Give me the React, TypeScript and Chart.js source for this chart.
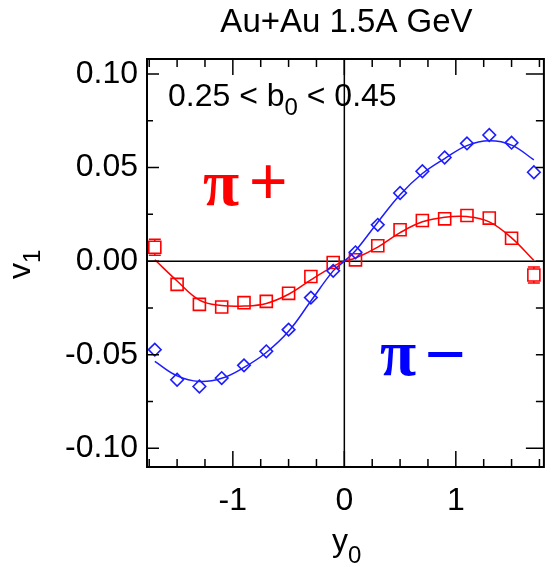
import React, { useEffect, useRef } from 'react';
import { Chart, registerables } from 'chart.js';
Chart.register(...registerables);

// ---- data ----
const rapidity = [-1.7, -1.5, -1.3, -1.1, -0.9, -0.7, -0.5, -0.3, -0.1, 0.1, 0.3, 0.5, 0.7, 0.9, 1.1, 1.3, 1.5, 1.7];
const piPlusV1 = [0.0074, -0.0124, -0.0231, -0.0245, -0.0222, -0.0215, -0.0172, -0.0082, -0.0007, 0.0007, 0.0082, 0.0168, 0.0217, 0.0226, 0.0244, 0.023, 0.0122, -0.0074];
const piPlusErr = [0.0043, 0, 0, 0, 0, 0, 0, 0, 0, 0, 0, 0, 0, 0, 0, 0, 0, 0.0043];
const piMinusV1 = [-0.0473, -0.0634, -0.067, -0.0625, -0.0557, -0.0482, -0.0366, -0.0195, -0.0052, 0.0047, 0.0194, 0.0364, 0.048, 0.0554, 0.0629, 0.0674, 0.0633, 0.0475];

const fitRapidity = [-1.7, -1.5, -1.3, -1.1, -0.9, -0.7, -0.5, -0.3, -0.1, 0, 0.1, 0.3, 0.5, 0.7, 0.9, 1.1, 1.3, 1.5, 1.7];
const piPlusFit = [0.0007, -0.0106, -0.0208, -0.0237, -0.024, -0.0226, -0.0177, -0.01, -0.0028, 0, 0.0016, 0.0075, 0.0152, 0.021, 0.0235, 0.0238, 0.021, 0.0124, 0.0003];
const piMinusFit = [-0.0536, -0.0613, -0.0643, -0.0626, -0.0568, -0.0488, -0.0375, -0.0213, -0.0052, 0, 0.0055, 0.0208, 0.0355, 0.0468, 0.0548, 0.0617, 0.0643, 0.062, 0.0541];

const xTicks = [-1, 0, 1];
const xMinorTicks = [-1.75, -1.5, -1.25, -0.75, -0.5, -0.25, 0.25, 0.5, 0.75, 1.25, 1.5, 1.75];
const yTicks = [-0.1, -0.05, 0, 0.05, 0.1];
const yMinorTicks = [-0.075, -0.025, 0.025, 0.075];

const X_MIN = -1.77;
const X_MAX = 1.79;
const Y_MIN = -0.11;
const Y_MAX = 0.108;

const RED = '#ff0000';
const BLUE = '#1c1cff';
const SANS = "'Liberation Sans', Arial, Helvetica, sans-serif";
const SERIF = "'Liberation Serif', 'DejaVu Serif', serif";
const SQUARE_R = 8.5;

const decorPlugin = {
  id: 'decor',
  beforeDatasetsDraw(chart: any) {
    const { ctx, chartArea: a, scales } = chart;
    const x0 = scales.x.getPixelForValue(0);
    const y0 = scales.y.getPixelForValue(0);
    ctx.save();
    ctx.strokeStyle = '#000';
    ctx.lineWidth = 1.5;
    ctx.beginPath();
    ctx.moveTo(a.left, y0);
    ctx.lineTo(a.right, y0);
    ctx.moveTo(x0, a.top);
    ctx.lineTo(x0, a.bottom);
    ctx.stroke();
    ctx.restore();
  },
  afterDatasetsDraw(chart: any) {
    const { ctx, chartArea: a, scales } = chart;
    const xs = scales.x;
    const ys = scales.y;
    ctx.save();
    // error bars on pi+ points
    ctx.strokeStyle = RED;
    ctx.lineWidth = 1.5;
    const half = SQUARE_R * Math.SQRT1_2;
    rapidity.forEach((r, i) => {
      const e = piPlusErr[i];
      if (!e) return;
      const px = xs.getPixelForValue(r);
      const py = ys.getPixelForValue(piPlusV1[i]);
      const pt = ys.getPixelForValue(piPlusV1[i] + e);
      const pb = ys.getPixelForValue(piPlusV1[i] - e);
      ctx.beginPath();
      if (pt < py - half) {
        ctx.moveTo(px, pt);
        ctx.lineTo(px, py - half);
        ctx.moveTo(px - half, pt);
        ctx.lineTo(px + half, pt);
      }
      if (pb > py + half) {
        ctx.moveTo(px, py + half);
        ctx.lineTo(px, pb);
        ctx.moveTo(px - half, pb);
        ctx.lineTo(px + half, pb);
      }
      ctx.stroke();
    });
    // frame
    ctx.strokeStyle = '#000';
    ctx.lineWidth = 2;
    ctx.strokeRect(a.left, a.top, a.right - a.left, a.bottom - a.top);
    // ticks
    ctx.lineWidth = 1.5;
    ctx.beginPath();
    const xt = (v: number, len: number) => {
      const p = xs.getPixelForValue(v);
      ctx.moveTo(p, a.bottom);
      ctx.lineTo(p, a.bottom - len);
      ctx.moveTo(p, a.top);
      ctx.lineTo(p, a.top + len);
    };
    xTicks.forEach((v) => xt(v, 16));
    xMinorTicks.forEach((v) => xt(v, 8));
    const yt = (v: number, lenL: number, lenR: number) => {
      const p = ys.getPixelForValue(v);
      ctx.moveTo(a.left, p);
      ctx.lineTo(a.left + lenL, p);
      ctx.moveTo(a.right, p);
      ctx.lineTo(a.right - lenR, p);
    };
    yTicks.forEach((v) => yt(v, 12, Math.abs(v) > 0.09 ? 18 : 8));
    yMinorTicks.forEach((v) => yt(v, 6, 8));
    ctx.stroke();
    ctx.restore();
  },
  afterDraw(chart: any) {
    const { ctx } = chart;
    ctx.save();
    ctx.fillStyle = '#000';
    ctx.textBaseline = 'alphabetic';
    // title
    ctx.font = `33px ${SANS}`;
    ctx.textAlign = 'center';
    ctx.fillText('Au+Au 1.5A GeV', 346.5, 32);
    // impact parameter range
    ctx.textAlign = 'left';
    let x = 168;
    const by = 106;
    ctx.font = `32px ${SANS}`;
    const s1 = '0.25 < b';
    ctx.fillText(s1, x, by);
    x += ctx.measureText(s1).width;
    ctx.font = `24px ${SANS}`;
    ctx.fillText('0', x, by + 9);
    x += ctx.measureText('0').width;
    ctx.font = `32px ${SANS}`;
    ctx.fillText(' < 0.45', x, by);
    // x-axis title
    ctx.font = `32px ${SANS}`;
    ctx.fillText('y', 332, 551);
    const yw = ctx.measureText('y').width;
    ctx.font = `24px ${SANS}`;
    ctx.fillText('0', 332 + yw, 563);
    // y-axis title
    ctx.save();
    ctx.translate(30, 279);
    ctx.rotate(-Math.PI / 2);
    ctx.font = `32px ${SANS}`;
    ctx.fillText('v', 0, 0);
    const vw = ctx.measureText('v').width;
    ctx.font = `24px ${SANS}`;
    ctx.fillText('1', vw, 10);
    ctx.restore();
    // species labels
    ctx.fillStyle = RED;
    ctx.font = `bold 66px ${SERIF}`;
    ctx.fillText('π', 203, 205);
    ctx.font = `66px ${SANS}`;
    ctx.fillText('+', 249, 204);
    ctx.fillStyle = '#0000ff';
    ctx.font = `bold 66px ${SERIF}`;
    ctx.fillText('π', 380, 375);
    ctx.font = `70px ${SANS}`;
    ctx.fillText('\u2212', 425, 378);
    ctx.restore();
  },
};

export default function App() {
  const ref = useRef<HTMLCanvasElement | null>(null);
  useEffect(() => {
    if (!ref.current) return;
    const chart = new Chart(ref.current, {
      type: 'scatter',
      data: {
        datasets: [
          {
            label: 'pi- data',
            data: rapidity.map((r, i) => ({ x: r, y: piMinusV1[i] })),
            pointStyle: 'rectRot',
            pointRadius: 6.3,
            borderColor: BLUE,
            backgroundColor: 'rgba(0,0,0,0)',
            pointBorderWidth: 1.6,
            showLine: false,
          },
          {
            label: 'pi+ data',
            data: rapidity.map((r, i) => ({ x: r, y: piPlusV1[i] })),
            pointStyle: 'rect',
            pointRadius: SQUARE_R,
            borderColor: RED,
            backgroundColor: 'rgba(0,0,0,0)',
            pointBorderWidth: 1.6,
            showLine: false,
          },
          {
            label: 'pi- fit',
            data: fitRapidity.map((r, i) => ({ x: r, y: piMinusFit[i] })),
            showLine: true,
            pointRadius: 0,
            borderColor: BLUE,
            borderWidth: 1.5,
            tension: 0.4,
          },
          {
            label: 'pi+ fit',
            data: fitRapidity.map((r, i) => ({ x: r, y: piPlusFit[i] })),
            showLine: true,
            pointRadius: 0,
            borderColor: RED,
            borderWidth: 1.5,
            tension: 0.4,
          },
        ],
      },
      options: {
        responsive: false,
        animation: false,
        devicePixelRatio: 1,
        layout: { padding: { top: 59, right: 1, left: 0, bottom: 0 } },
        plugins: { legend: { display: false }, tooltip: { enabled: false }, title: { display: false } },
        scales: {
          x: {
            type: 'linear',
            min: X_MIN,
            max: X_MAX,
            afterBuildTicks: (s: any) => {
              s.ticks = xTicks.map((v) => ({ value: v }));
            },
            afterFit: (s: any) => {
              s.height = 100;
            },
            grid: { display: false, drawTicks: false },
            border: { display: false },
            ticks: {
              color: '#000',
              padding: 15,
              font: { family: SANS, size: 32 },
              maxRotation: 0,
              callback: (v: any) => String(v),
            },
          },
          y: {
            type: 'linear',
            min: Y_MIN,
            max: Y_MAX,
            afterBuildTicks: (s: any) => {
              s.ticks = yTicks.map((v) => ({ value: v }));
            },
            afterFit: (s: any) => {
              s.width = 147;
            },
            grid: { display: false, drawTicks: false },
            border: { display: false },
            ticks: {
              color: '#000',
              padding: 9,
              font: { family: SANS, size: 32 },
              callback: (v: any) => Number(v).toFixed(2),
            },
          },
        },
      },
      plugins: [decorPlugin],
    });
    return () => chart.destroy();
  }, []);
  return (
    <div style={{ position: 'absolute', left: 0, top: 0, width: 554, height: 567, background: '#fff' }}>
      <canvas ref={ref} width={554} height={567} style={{ width: 554, height: 567, display: 'block' }} />
    </div>
  );
}
